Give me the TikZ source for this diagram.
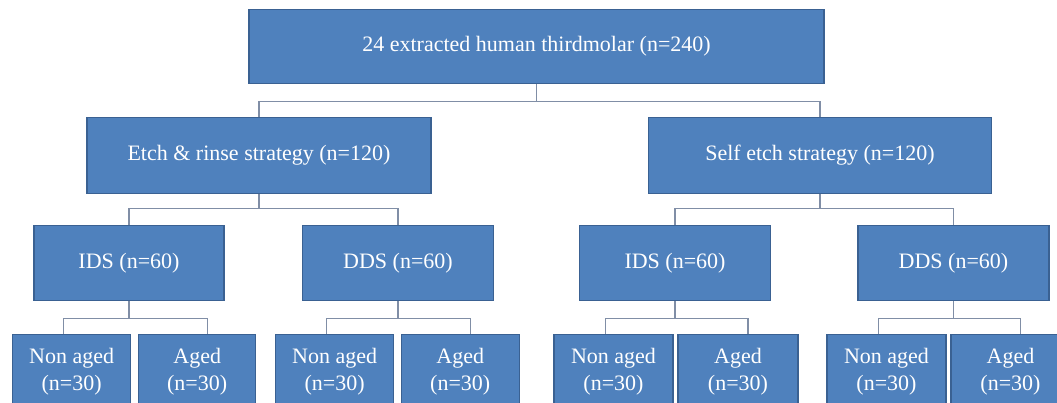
\documentclass[tikz,border=0pt]{standalone}
\usepackage{fontspec}
\setmainfont{Liberation Serif}
\usetikzlibrary{positioning,calc}
\definecolor{boxfill}{HTML}{4F81BD}
\definecolor{boxline}{HTML}{3A6192}
\definecolor{linkline}{RGB}{128,142,166}

\begin{document}
\begin{tikzpicture}[x=1pt,y=-1pt,
    box/.style={draw=boxline,line width=1.4pt,fill=boxfill,text=white,align=center,
        font=\fontsize{22}{27.5}\selectfont,minimum height=75pt,inner sep=0pt},
    link/.style={draw=linkline,line width=1.1pt}]
\useasboundingbox (0,0) rectangle (1057,402);
\clip (0,0) rectangle (1057,402);
% levels
\node[box,minimum width=575pt,minimum height=74pt] (root) at (536.5,46.5) {24 extracted human thirdmolar (n=240)};
\node[box,minimum width=344pt,minimum height=76pt] (etch) at (259,155.5) {Etch \& rinse strategy (n=120)};
\node[box,minimum width=343pt,minimum height=76pt] (self) at (820,155.5) {Self etch strategy (n=120)};
\node[box,minimum width=190pt] (ids1) at (129,263) {IDS (n=60)};
\node[box,minimum width=191pt] (dds1) at (398,263) {DDS (n=60)};
\node[box,minimum width=191pt] (ids2) at (675,263) {IDS (n=60)};
\node[box,minimum width=191pt] (dds2) at (953.5,263) {DDS (n=60)};
\node[box,minimum width=118pt,minimum height=74pt] (na1) at (71.7,371.5) {Non aged\\(n=30)};
\node[box,minimum width=117pt,minimum height=74pt] (ag1) at (197.2,371.5) {Aged\\(n=30)};
\node[box,minimum width=118pt,minimum height=74pt] (na2) at (334.6,371.5) {Non aged\\(n=30)};
\node[box,minimum width=118pt,minimum height=74pt] (ag2) at (460.2,371.5) {Aged\\(n=30)};
\node[box,minimum width=119pt,minimum height=74pt] (na3) at (613.5,371.5) {Non aged\\(n=30)};
\node[box,minimum width=120pt,minimum height=74pt] (ag3) at (738,371.5) {Aged\\(n=30)};
\node[box,minimum width=119pt,minimum height=74pt] (na4) at (886.5,371.5) {Non aged\\(n=30)};
\node[box,minimum width=119pt,minimum height=74pt] (ag4) at (1010.5,371.5) {Aged\\(n=30)};
% connectors
\draw[link]
    (root.south) -- ++(0,17) -| (etch.north)
    (root.south) -- ++(0,17) -| (self.north)
    (etch.south) -- ++(0,14) -| (ids1.north)
    (etch.south) -- ++(0,14) -| (dds1.north)
    (self.south) -- ++(0,14) -| (ids2.north)
    (self.south) -- ++(0,14) -| (dds2.north)
    (ids1.south) -- ++(0,17) -| ([xshift=-8pt]na1.north)
    (ids1.south) -- ++(0,17) -| ([xshift=10pt]ag1.north)
    (dds1.south) -- ++(0,17) -| ([xshift=-8pt]na2.north)
    (dds1.south) -- ++(0,17) -| ([xshift=10pt]ag2.north)
    (ids2.south) -- ++(0,17) -| ([xshift=-8pt]na3.north)
    (ids2.south) -- ++(0,17) -| ([xshift=10pt]ag3.north)
    (dds2.south) -- ++(0,17) -| ([xshift=-8pt]na4.north)
    (dds2.south) -- ++(0,17) -| ([xshift=10pt]ag4.north);
\end{tikzpicture}
\end{document}
